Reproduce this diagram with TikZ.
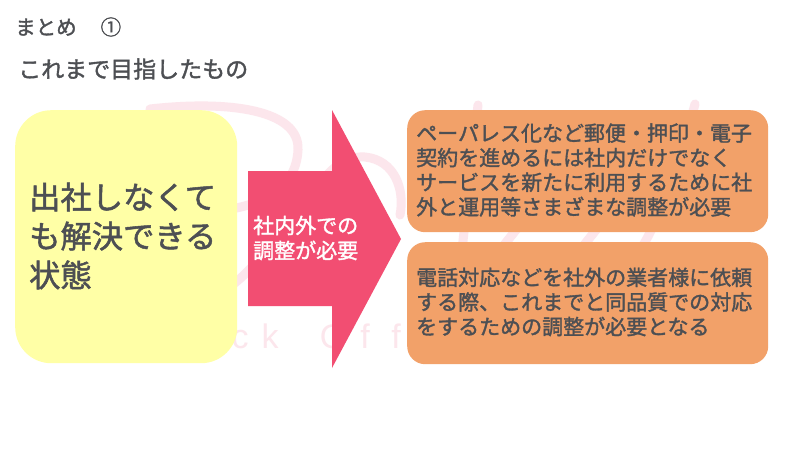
\documentclass[tikz,border=0pt]{standalone}
\usepackage{fontspec}
\setmainfont{Noto Sans CJK JP}[BoldFont={*},BoldFeatures={FakeBold=1.6}]
\newfontfamily\markfont{Liberation Sans}
\definecolor{inkgray}{HTML}{4D4F53}
\definecolor{softyellow}{HTML}{FFFFA6}
\definecolor{softorange}{HTML}{F2A169}
\definecolor{arrowpink}{HTML}{F24E72}
\definecolor{palepink}{HTML}{FCE6EC}
\tikzset{
    headtext/.style={anchor=west,inner sep=0pt,text=inkgray,font=\bfseries\fontsize{20.5pt}{20.5pt}\selectfont},
    notebox/.style={draw=none,fill=softorange,rounded corners=18pt,inner sep=0pt,anchor=north west},
    notetext/.style={anchor=west,inner sep=0pt,text=inkgray,font=\bfseries\fontsize{21pt}{24.6pt}\selectfont,align=left},
    markstroke/.style={draw=palepink,line width=9pt,line cap=round},
    markletter/.style={anchor=base,inner sep=0pt,text=palepink,font=\markfont\fontsize{34pt}{34pt}\selectfont},
}
\begin{document}
\begin{tikzpicture}[x=1pt,y=-1pt]
    \useasboundingbox (0,0) rectangle (800,450);
    \fill[white] (0,0) rectangle (800,450);
    % faint logo behind the boxes
    \draw[markstroke] (150,109) .. controls (230,100) and (300,110) .. (298,150) .. controls (296,190) and (260,205) .. (225,210);
    \draw[markstroke] (300,240) .. controls (310,180) and (340,155) .. (365,157) .. controls (395,160) and (405,190) .. (400,215);
    \draw[markstroke] (225,290) .. controls (240,280) and (250,270) .. (262,255);
    \draw[markstroke] (478,105) -- (462,250);
    \draw[markstroke] (520,225) -- (500,250);
    \draw[markstroke] (600,225) -- (580,250);
    \draw[markstroke] (695,104) .. controls (680,160) and (660,220) .. (640,250);
    \node[markletter] (markc) at (240,348) {c};
    \node[markletter] (markk) at (270,348) {k};
    \node[markletter] (marko) at (333,348) {O};
    \node[markletter] (markf) at (365,348) {f};
    \node[markletter] (markg) at (396,348) {f};
    % title lines
    \node[headtext] (title) at (15,27) {まとめ\hspace{24pt}①};
    \node[headtext,font=\bfseries\fontsize{23pt}{23pt}\selectfont] (subtitle) at (18,69) {これまで目指したもの};
    % left box, arrow, right boxes
    \node[notebox,fill=softyellow,rounded corners=36pt,minimum width=222pt,minimum height=253pt] (goal) at (15,110) {};
    \node[notetext,font=\bfseries\fontsize{31.3pt}{39pt}\selectfont] (goaltext) at (29,236) {出社しなくて\\も解決できる\\状態};
    \fill[arrowpink] (248,171) -- (332,171) -- (332,110) -- (401,239) -- (332,368) -- (332,306) -- (248,306) -- cycle;
    \node[anchor=west,inner sep=0pt,text=white,align=left,font=\bfseries\fontsize{21pt}{25pt}\selectfont] (arrowtext) at (253,238) {社内外での\\調整が必要};
    \node[notebox,minimum width=361pt,minimum height=122pt] (upper) at (407,110) {};
    \node[notebox,minimum width=361pt,minimum height=122pt] (lower) at (407,242) {};
    \node[notetext] (uppertext) at (416,170) {ペーパレス化など郵便・押印・電子\\契約を進めるには社内だけでなく\\サービスを新たに利用するために社\\外と運用等さまざまな調整が必要};
    \node[notetext] (lowertext) at (416,302) {電話対応などを社外の業者様に依頼\\する際、これまでと同品質での対応\\をするための調整が必要となる};
\end{tikzpicture}
\end{document}
